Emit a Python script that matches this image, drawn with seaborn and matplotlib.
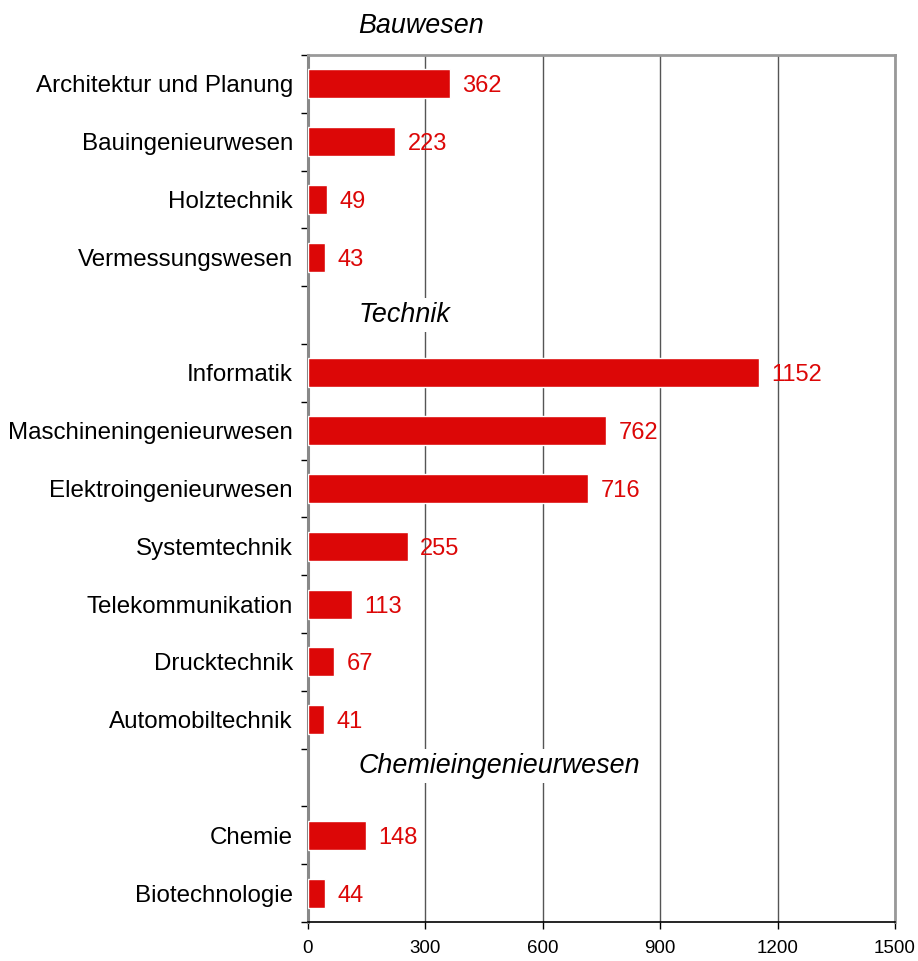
import numpy as np
import pandas as pd
import matplotlib
matplotlib.use("Agg")
import matplotlib.pyplot as plt
import seaborn as sns

# group headings and their members
groups = ["Bauwesen", "Technik", "Chemieingenieurwesen"]
bau_labels = ["Architektur und Planung", "Bauingenieurwesen", "Holztechnik",
              "Vermessungswesen"]
bau_values = [362, 223, 49, 43]
tech_labels = ["Informatik", "Maschineningenieurwesen", "Elektroingenieurwesen",
               "Systemtechnik", "Telekommunikation", "Drucktechnik",
               "Automobiltechnik"]
tech_values = [1152, 762, 716, 255, 113, 67, 41]
chem_labels = ["Chemie", "Biotechnologie"]
chem_values = [148, 44]
x_ticks = [0, 300, 600, 900, 1200, 1500]

RED = "#DC0707"

# one blank row in front of each group carries the heading
order = []
heading_rows = []
labels, values = [], []
for i, (g, labs, vals) in enumerate(zip(groups,
                                        [bau_labels, tech_labels, chem_labels],
                                        [bau_values, tech_values, chem_values])):
    heading_rows.append(len(order))
    order.append(" " * (i + 1))
    order.extend(labs)
    labels.extend(labs)
    values.extend(vals)

df = pd.DataFrame({"Fach": labels, "Anzahl": values})

sns.set_style("white")
plt.rcParams["font.family"] = ["Liberation Sans", "DejaVu Sans"]
plt.rcParams["text.color"] = "black"
plt.rcParams["xtick.color"] = "black"
plt.rcParams["ytick.color"] = "black"

fig, ax = plt.subplots(figsize=(9.18, 9.61), dpi=100)
fig.subplots_adjust(left=0.3355, right=0.975, top=0.9428, bottom=0.0406)

sns.barplot(data=df, x="Anzahl", y="Fach", order=order, orient="h",
            color=RED, saturation=1, width=0.5, ax=ax, zorder=3)
value_texts = ax.bar_label(ax.containers[0], fmt="%d", padding=9,
                           color=RED, fontsize=17)
for t in value_texts:
    t.set_va("center_baseline")

ax.set_xticks(x_ticks)
ax.set_xticklabels([str(t) for t in x_ticks], fontsize=13.5)
ax.set_xlabel("")
ax.set_ylabel("")

# category labels without marks, boundary ticks as minor ticks
ax.set_yticks(range(len(order)))
ax.set_yticklabels(order, fontsize=17.4)
ax.set_yticks(np.arange(0.5, len(order), 1.0), minor=True)
ax.tick_params(axis="y", which="major", length=0, pad=10.8)
ax.tick_params(axis="y", which="minor", length=5, width=1, color="black",
               direction="out", left=True)
ax.tick_params(axis="x", length=5, width=1, color="black", direction="out",
               bottom=True, pad=8)
ax.set_xlim(0, 1500)
ax.set_ylim(len(order) - 0.5, 0.5)

ax.set_axisbelow(True)
ax.xaxis.grid(True, color="#555555", linewidth=1)
for side in ["top", "right"]:
    ax.spines[side].set_color("#999999")
    ax.spines[side].set_linewidth(2)
ax.spines["left"].set_color("#888888")
ax.spines["left"].set_linewidth(2.2)
ax.spines["bottom"].set_color("black")
ax.spines["bottom"].set_linewidth(1.2)

offsets = [0.0, 0.0, -0.2]
for g, row, off in zip(groups, heading_rows, offsets):
    ax.text(128, row + off, g, ha="left", va="center", fontsize=19.4,
            style="italic", clip_on=False, zorder=4,
            bbox=dict(facecolor="white", edgecolor="none", pad=3))

fig.savefig("out.png", dpi=100)
